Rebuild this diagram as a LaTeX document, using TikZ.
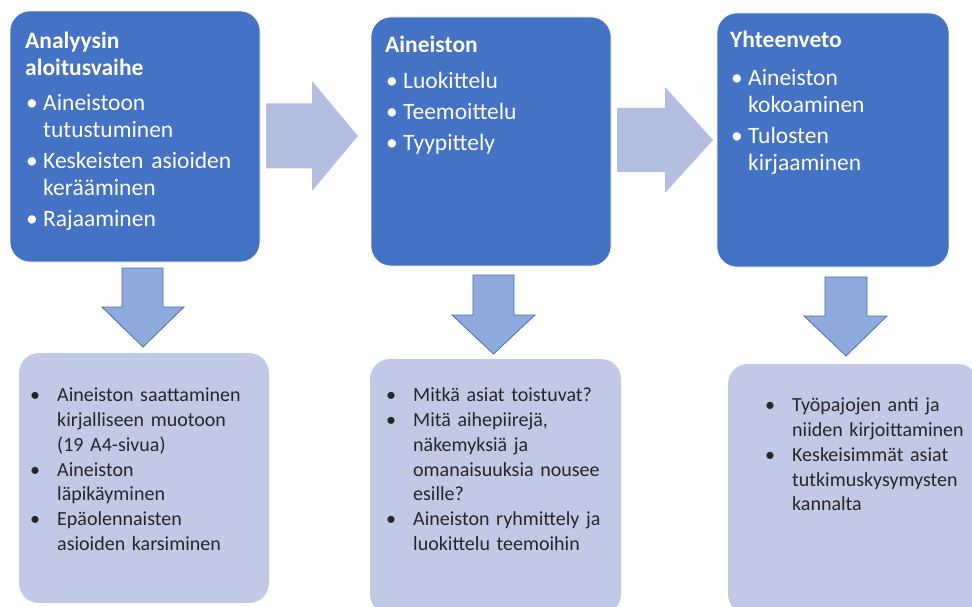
\documentclass[tikz,border=0pt]{standalone}
\usepackage{fontspec}
\setmainfont{Carlito}
\usepackage{tikz}

\definecolor{phaseblue}{HTML}{4472C4}
\definecolor{notefill}{HTML}{C0CAE6}
\definecolor{flowfill}{HTML}{B2BFE0}
\definecolor{downfill}{HTML}{8FAADC}
\definecolor{downline}{HTML}{4A6FB5}

% bullet items for the blue boxes and the light boxes
\newcommand{\phaseitem}[1]{\par\hangindent=18pt\hangafter=1\noindent\hspace*{1pt}\makebox[17pt][l]{\textbullet}#1\par}
\newcommand{\noteitem}[1]{\par\hangindent=27pt\hangafter=1\noindent\makebox[27pt][l]{\textbullet}#1\par}

\begin{document}
\begin{tikzpicture}[x=1pt, y=-1pt,
	phase/.style={rectangle, rounded corners=20pt, fill=phaseblue, draw=white, line width=0.6pt, inner sep=0},
	note/.style={rectangle, rounded corners=20pt, fill=notefill, inner sep=0},
	phasetext/.style={anchor=north west, inner sep=0, text width=240pt, align=left, text=white, font=\fontsize{23.5}{27}\selectfont},
	notetext/.style={anchor=north west, inner sep=0, text width=240pt, align=left, text=black!85, font=\fontsize{20}{24.7}\selectfont},
	flow/.style={fill=flowfill},
	down/.style={fill=downfill, draw=downline, line width=0.8pt, line join=miter}]
	\clip (0,0) rectangle (972,607);
	\fill[white] (0,0) rectangle (972,607);

	% Phases
	\node [phase, minimum width=250pt, minimum height=251pt] (b1) at (135,136.5) {};
	\node [phase, minimum width=240pt, minimum height=249pt] (b2) at (491,141.5) {};
	\node [phase, minimum width=232pt, minimum height=254pt] (b3) at (833,140) {};

	% Notes
	\node [note, minimum width=250pt, minimum height=250pt] (c1) at (144,478) {};
	\node [note, minimum width=251pt, minimum height=255pt] (c2) at (495.5,486.5) {};
	\node [note, minimum width=250pt, minimum height=250pt] (c3) at (853,489) {};

	% Arrows between phases
	\path [flow] (266,103.5) -- (312,103.5) -- (312,81) -- (358,136) -- (312,191) -- (312,168.5) -- (266,168.5) -- cycle;
	\path [flow] (617,108) -- (665,108) -- (665,87) -- (713,140) -- (665,193) -- (665,172) -- (617,172) -- cycle;

	% Arrows down to the notes
	\draw [down] (122,268) -- (163,268) -- (163,307) -- (184,307) -- (143,347) -- (102,307) -- (122,307) -- cycle;
	\draw [down] (473,275) -- (514,275) -- (514,315) -- (535,315) -- (493.5,354) -- (452,315) -- (473,315) -- cycle;
	\draw [down] (825,277) -- (867,277) -- (867,316) -- (887,316) -- (846,356) -- (804,316) -- (825,316) -- cycle;

	% Texts of the phases
	\node [phasetext] (p1) at (25,32) {\textbf{Analyysin\newline aloitusvaihe}\par\vspace{8pt}
		\phaseitem{Aineistoon\newline tutustuminen}\vspace{4pt}
		\phaseitem{Keskeisten asioiden\newline kerääminen}\vspace{4pt}
		\phaseitem{Rajaaminen}};
	\node [phasetext] (p2) at (385,36) {\textbf{Aineiston}\par\vspace{9pt}
		\phaseitem{Luokittelu}\vspace{4pt}
		\phaseitem{Teemoittelu}\vspace{4pt}
		\phaseitem{Tyypittely}};
	\node [phasetext] (p3) at (730,31) {\textbf{Yhteenveto}\par\vspace{11pt}
		\phaseitem{Aineiston\newline kokoaminen}\vspace{4pt}
		\phaseitem{Tulosten\newline kirjaaminen}};

	% Texts of the notes
	\node [notetext] (n1) at (30,377) {\noteitem{Aineiston saattaminen\newline kirjalliseen muotoon\newline (19 A4-sivua)}
		\noteitem{Aineiston\newline läpikäyminen}
		\noteitem{Epäolennaisten\newline asioiden karsiminen}};
	\node [notetext] (n2) at (386,377) {\noteitem{Mitkä asiat toistuvat?}
		\noteitem{Mitä aihepiirejä,\newline näkemyksiä ja\newline omanaisuuksia nousee\newline esille?}
		\noteitem{Aineiston ryhmittely ja\newline luokittelu teemoihin}};
	\node [notetext] (n3) at (765,387) {\noteitem{Työpajojen anti ja\newline niiden kirjoittaminen}
		\noteitem{Keskeisimmät asiat\newline tutkimuskysymysten\newline kannalta}};
\end{tikzpicture}
\end{document}
